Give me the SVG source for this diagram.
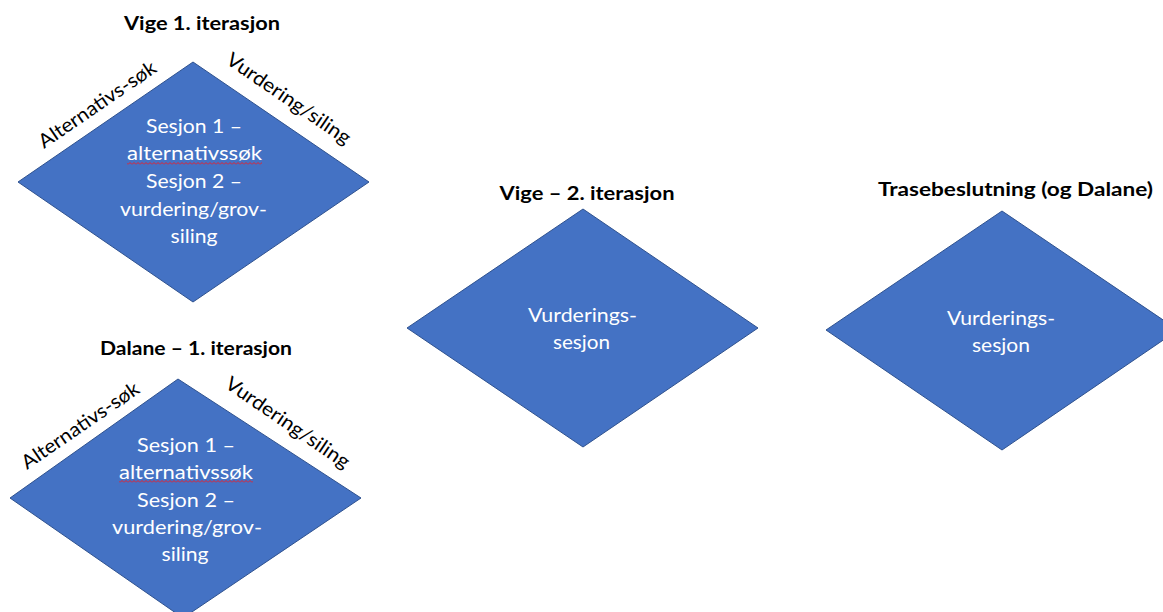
<svg xmlns="http://www.w3.org/2000/svg" width="1163" height="612" viewBox="0 0 1163 612">
<style>
.shape{fill:#4472C4;stroke:#2F528F;stroke-width:1}
.title{font-family:Lato,"Liberation Sans",sans-serif;font-weight:bold;font-size:18px;fill:#000;text-anchor:middle}
.inner{font-family:Lato,"Liberation Sans",sans-serif;font-size:19.5px;fill:#fff;text-anchor:middle}
.edge{font-family:Lato,"Liberation Sans",sans-serif;font-size:19.5px;fill:#000;text-anchor:middle}
</style>
<defs>
<pattern id="squiggle" width="4" height="3" patternUnits="userSpaceOnUse">
<path d="M0,2.5 L2,0.5 L4,2.5" fill="none" stroke="#E8202A" stroke-width="1"/>
</pattern>
</defs>
<rect width="1163" height="612" fill="#fff"/>

<g id="vige1">
<text class="title" x="202" y="30" textLength="156" lengthAdjust="spacingAndGlyphs">Vige 1. iterasjon</text>
<polygon class="shape" points="18,182 193,62 369,182 193,302"/>
<text class="edge" transform="translate(101,110) rotate(-34.4)" textLength="138" lengthAdjust="spacingAndGlyphs">Alternativs-søk</text>
<text class="edge" transform="translate(285,104) rotate(34.4)" textLength="146" lengthAdjust="spacingAndGlyphs">Vurdering/siling</text>
<text class="inner" x="194" y="133" textLength="96" lengthAdjust="spacingAndGlyphs">Sesjon 1 –</text>
<text class="inner" x="194.5" y="160" textLength="135" lengthAdjust="spacingAndGlyphs">alternativssøk</text>
<rect x="127" y="162" width="135" height="3" fill="url(#squiggle)"/>
<text class="inner" x="194" y="188" textLength="96" lengthAdjust="spacingAndGlyphs">Sesjon 2 –</text>
<text class="inner" x="193.5" y="216" textLength="147" lengthAdjust="spacingAndGlyphs">vurdering/grov-</text>
<text class="inner" x="194" y="243" textLength="47" lengthAdjust="spacingAndGlyphs">siling</text>
</g>

<g id="dalane1">
<text class="title" x="196" y="355" textLength="192" lengthAdjust="spacingAndGlyphs">Dalane – 1. iterasjon</text>
<polygon class="shape" points="10,498 178,379 361,498 183,618"/>
<text class="edge" transform="translate(84,431) rotate(-34.4)" textLength="138" lengthAdjust="spacingAndGlyphs">Alternativs-søk</text>
<text class="edge" transform="translate(284,428) rotate(34.4)" textLength="146" lengthAdjust="spacingAndGlyphs">Vurdering/siling</text>
<text class="inner" x="186" y="452" textLength="98" lengthAdjust="spacingAndGlyphs">Sesjon 1 –</text>
<text class="inner" x="186" y="479" textLength="134" lengthAdjust="spacingAndGlyphs">alternativssøk</text>
<rect x="119" y="480" width="134" height="3" fill="url(#squiggle)"/>
<text class="inner" x="186" y="507" textLength="98" lengthAdjust="spacingAndGlyphs">Sesjon 2 –</text>
<text class="inner" x="187" y="534" textLength="150" lengthAdjust="spacingAndGlyphs">vurdering/grov-</text>
<text class="inner" x="185" y="561" textLength="47" lengthAdjust="spacingAndGlyphs">siling</text>
</g>

<g id="vige2">
<text class="title" x="587" y="200" textLength="175" lengthAdjust="spacingAndGlyphs">Vige – 2. iterasjon</text>
<polygon class="shape" points="407,328 583,209 758,328 583,447"/>
<text class="inner" x="582.5" y="322" textLength="109" lengthAdjust="spacingAndGlyphs">Vurderings-</text>
<text class="inner" x="581.5" y="349" textLength="57" lengthAdjust="spacingAndGlyphs">sesjon</text>
</g>

<g id="trase">
<text class="title" x="1015.5" y="196" textLength="275" lengthAdjust="spacingAndGlyphs">Trasebeslutning (og Dalane)</text>
<polygon class="shape" points="826,330 1002,211 1178,330 1002,450"/>
<text class="inner" x="1001" y="325" textLength="108" lengthAdjust="spacingAndGlyphs">Vurderings-</text>
<text class="inner" x="1001" y="352" textLength="58" lengthAdjust="spacingAndGlyphs">sesjon</text>
</g>

<g id="connectors"></g>
</svg>
